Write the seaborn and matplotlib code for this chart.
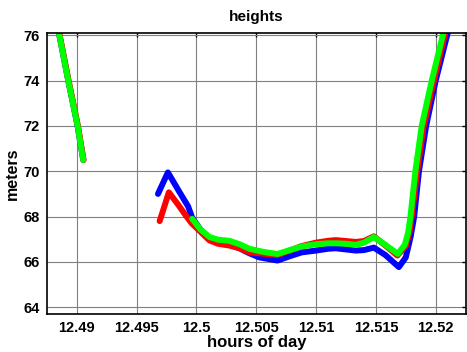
import numpy as np
import pandas as pd
import matplotlib
matplotlib.use("Agg")
import matplotlib.pyplot as plt
import seaborn as sns

# ---- data ----
left_x = [12.4885, 12.48928, 12.49006, 12.49053]
left_y = [76.1, 74.0, 72.0, 70.5]

blue_x = [12.49678, 12.49761, 12.4985, 12.4993, 12.49964, 12.5003, 12.50108, 12.5018, 12.50275,
          12.5036, 12.50442, 12.50525, 12.50677, 12.5078, 12.5088, 12.510, 12.5110, 12.51165,
          12.5125, 12.51332, 12.5140, 12.51483, 12.5158, 12.51692, 12.5175, 12.5179, 12.5182,
          12.5186, 12.5192, 12.5200, 12.5210]
blue_y = [69.0, 69.95, 69.15, 68.45, 67.95, 67.45, 67.0, 66.85, 66.78,
          66.6, 66.38, 66.2, 66.06, 66.25, 66.42, 66.5, 66.58, 66.6,
          66.55, 66.5, 66.52, 66.63, 66.3, 65.77, 66.2, 67.1, 68.0,
          70.0, 72.0, 74.0, 76.1]

red_x = [12.49692, 12.49769, 12.4985, 12.4991, 12.4996, 12.5003, 12.50108, 12.5018, 12.50275,
         12.5036, 12.50442, 12.50525, 12.50677, 12.5078, 12.5088, 12.510, 12.5110, 12.51165,
         12.5125, 12.51332, 12.5140, 12.51483, 12.5158, 12.5168, 12.5175, 12.5178, 12.5180,
         12.51845, 12.5190, 12.51985, 12.5208]
red_y = [67.8, 69.07, 68.5, 68.05, 67.7, 67.35, 66.95, 66.8, 66.72,
         66.6, 66.42, 66.38, 66.3, 66.5, 66.7, 66.85, 66.93, 66.96,
         66.92, 66.88, 66.92, 67.13, 66.72, 66.28, 66.7, 67.3, 68.0,
         70.0, 72.0, 74.0, 76.1]

green_x = [12.49964, 12.5003, 12.50108, 12.5018, 12.50275, 12.5036, 12.50442, 12.50525, 12.50581,
           12.50677, 12.5078, 12.5088, 12.510, 12.5110, 12.51165, 12.5125, 12.51332, 12.5140,
           12.51483, 12.5158, 12.51683, 12.51742, 12.5177, 12.51789, 12.5183, 12.51883, 12.51967,
           12.52064]
green_y = [67.9, 67.45, 67.1, 66.98, 66.93, 66.78, 66.58, 66.48, 66.42,
           66.35, 66.52, 66.68, 66.78, 66.82, 66.82, 66.8, 66.75, 66.85,
           67.1, 66.75, 66.35, 66.76, 67.3, 68.0, 70.0, 72.0, 74.0,
           76.1]

x_ticks = [12.49, 12.495, 12.5, 12.505, 12.51, 12.515, 12.52]
x_tick_labels = ["12.49", "12.495", "12.5", "12.505", "12.51", "12.515", "12.52"]
y_ticks = [64, 66, 68, 70, 72, 74, 76]

# ---- style ----
sns.set_style("white")
plt.rcParams['font.family'] = ['Liberation Sans', 'DejaVu Sans']
plt.rcParams['font.weight'] = 'bold'
plt.rcParams['text.color'] = 'black'
plt.rcParams['axes.labelcolor'] = 'black'
plt.rcParams['xtick.color'] = 'black'
plt.rcParams['ytick.color'] = 'black'

fig = plt.figure(figsize=(4.67, 3.52), dpi=100)
ax = fig.add_axes([0.1006, 0.108, 0.8964, 0.798])

lw = 4.3
series = [("blue", "#0000ff", blue_x, blue_y, 0.0),
          ("red", "#ff0000", red_x, red_y, 0.00003),
          ("green", "#00ff00", green_x, green_y, 0.0)]
for name, col, xs, ys, off in series:
    lx = [v + off for v in left_x]
    sns.lineplot(x=lx, y=left_y, ax=ax, color=col, linewidth=lw, sort=False,
                 solid_capstyle='round', solid_joinstyle='round')
    sns.lineplot(x=xs, y=ys, ax=ax, color=col, linewidth=lw, sort=False,
                 solid_capstyle='round', solid_joinstyle='round')

ax.set_xlim(12.4875, 12.5225)
ax.set_ylim(63.7, 76.1)
ax.set_xticks(x_ticks)
ax.set_xticklabels(x_tick_labels)
ax.set_yticks(y_ticks)
ax.grid(True, color='0.5', linewidth=0.8)
ax.tick_params(direction='in', top=True, right=True, length=3, width=1,
               labelsize=10.5, pad=5, colors='black')
for lab in ax.get_xticklabels() + ax.get_yticklabels():
    lab.set_fontweight('bold')
for s in ax.spines.values():
    s.set_color('black')
    s.set_linewidth(1.2)

ax.set_title("heights", fontsize=11, fontweight='bold', pad=9, color='black')
ax.set_xlabel("hours of day", fontsize=12, fontweight='bold', labelpad=0, color='black')
ax.set_ylabel("meters", fontsize=11.5, fontweight='bold', labelpad=3, color='black')

fig.savefig("out.png", dpi=100)
